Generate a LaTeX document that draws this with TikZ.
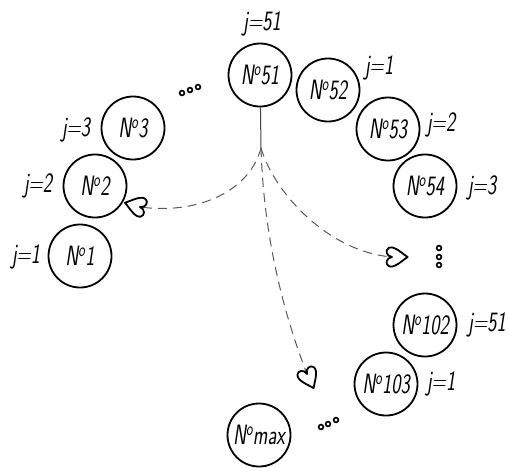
\documentclass[tikz,border=0pt]{standalone}
\usepackage{graphicx}
\newcommand\sx[1]{\scalebox{0.7}[1]{#1}}
\newcommand\nro{N\textsuperscript{o}}
\tikzset{
  ball/.style={circle, draw, line width=1.8pt, minimum size=63pt, inner sep=0pt,
    font=\fontsize{28}{30}\selectfont\sffamily\itshape},
  jlab/.style={inner sep=0pt, font=\fontsize{28}{30}\selectfont\sffamily\itshape},
  flow/.style={dash pattern=on 9pt off 6pt, line width=1pt, draw=black!65},
  stem/.style={line width=1pt, draw=black!75},
  heartline/.style={line width=1.8pt, line join=round},
  dotmark/.style={line width=1.6pt, draw=black, fill=white},
  heart/.pic={
    \draw[heartline, scale=1.3] (12,0) .. controls (7.5,3) and (1.5,9) .. (-2.5,7)
      .. controls (-5.5,5.5) and (-4.5,0.5) .. (0,0)
      .. controls (-4.5,-0.5) and (-5.5,-5.5) .. (-2.5,-7)
      .. controls (1.5,-9) and (7.5,-3) .. (12,0) -- cycle;
  }
}
\begin{document}
\begin{tikzpicture}[x=1pt,y=-1pt]
\useasboundingbox (0,0) rectangle (510,467);
% circles
\node[ball] (n51) at (260,75) {\sx{\nro51}};
\node[ball] (n52) at (328,90) {\sx{\nro52}};
\node[ball] (n53) at (388,129) {\sx{\nro53}};
\node[ball] (n54) at (425,186) {\sx{\nro54}};
\node[ball] (n3) at (133,128) {\sx{\nro3}};
\node[ball] (n2) at (95,186) {\sx{\nro2}};
\node[ball] (n1) at (80,256) {\sx{\nro1}};
\node[ball] (n102) at (425,325) {\sx{\nro102}};
\node[ball] (n103) at (386,384) {\sx{\nro103}};
\node[ball] (nmax) at (259,435) {\sx{\nro max}};
% labels
\node[jlab] (l51) at (262,24) {\sx{j=51}};
\node[jlab] (l52) at (379,68) {\sx{j=1}};
\node[jlab] (l53) at (441,125) {\sx{j=2}};
\node[jlab] (l54) at (482,188) {\sx{j=3}};
\node[jlab] (l102) at (487,325) {\sx{j=51}};
\node[jlab] (l103) at (441,384) {\sx{j=1}};
\node[jlab] (l3) at (76,130) {\sx{j=3}};
\node[jlab] (l2) at (38,186) {\sx{j=2}};
\node[jlab] (l1) at (26,257) {\sx{j=1}};
% ellipsis dots
\foreach \p in {(182,93),(190,90),(198,87),(439,248),(439,257),(439,265),(321,427),(328,424),(336,420)}
  \draw[dotmark] \p circle (2.4);
% connectors
\coordinate (split) at (261,148);
\coordinate (h2) at (140,207);
\coordinate (h54) at (392,257);
\coordinate (hmax) at (307,374);
\draw[stem] (n51) -- (split);
\draw[flow] (split) .. controls (250,190) and (200,215) .. (h2);
\draw[flow] (split) .. controls (275,195) and (330,252) .. (h54);
\draw[flow] (split) .. controls (264,250) and (290,330) .. (hmax);
\pic[rotate=164] at (h2) {heart};
\pic at (h54) {heart};
\pic[rotate=-65] at (hmax) {heart};
\end{tikzpicture}
\end{document}
